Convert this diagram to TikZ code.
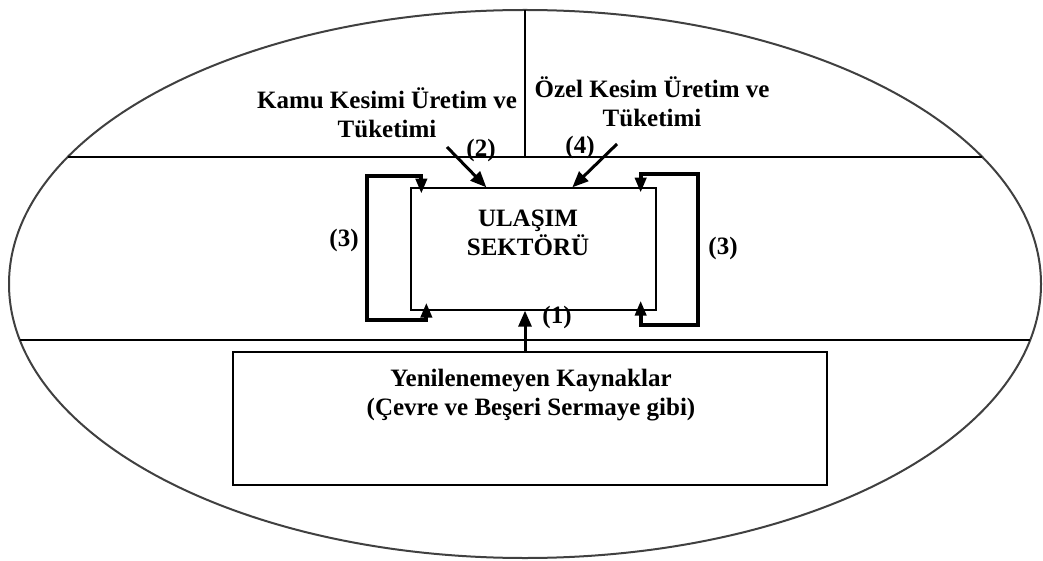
\documentclass[tikz,border=0pt]{standalone}
\usepackage{fontspec}
\setmainfont{Liberation Serif}
\usetikzlibrary{arrows.meta,calc}
\begin{document}
\begin{tikzpicture}[x=1pt,y=-1pt,
  lbl/.style={font=\bfseries\fontsize{25}{29}\selectfont, align=center, inner sep=0pt},
  thinbox/.style={draw, line width=1.3pt, inner sep=0pt},
  zone/.style={line width=1.8pt},
  loopline/.style={line width=4pt, line join=miter, {Triangle[length=15pt,width=11pt]}-{Triangle[length=15pt,width=11pt]}},
  feed/.style={line width=3pt, -{Triangle[length=16pt,width=13pt]}}]
\useasboundingbox (0,0) rectangle (1043,561);
% outer ellipse and zone lines
\draw[line width=2pt, black!75] (525,284) ellipse [x radius=516pt, y radius=274pt];
\coordinate (tl) at (68,157);
\coordinate (tr) at (982,157);
\coordinate (bl) at (20,340);
\coordinate (br) at (1030,340);
\coordinate (vt) at (525,10);
\coordinate (vb) at (525,157);
\draw[zone] (tl) -- (tr);
\draw[zone] (bl) -- (br);
\draw[line width=1.5pt] (vt) -- (vb);
% texts of upper zones
\node[lbl] (kamu) at (387,113) {Kamu Kesimi Üretim ve\\Tüketimi};
\node[lbl] (ozel) at (652,102) {Özel Kesim Üretim ve\\Tüketimi};
% transport sector
\node[thinbox, minimum width=245pt, minimum height=122pt] (sek) at (533.5,249) {};
\node[lbl] (sektxt) at (528,233) {ULAŞIM\\SEKTÖRÜ};
% resources box
\node[draw, zone, minimum width=594pt, minimum height=133pt, inner sep=0pt] (kaynak) at (530,418.5) {};
\node[lbl] (kaytxt) at (531,395) {Yenilenemeyen Kaynaklar\\(Çevre ve Beşeri Sermaye gibi)};
% loops (3)
\draw[loopline] ($(sek.south west)+(16,-8)$) -- ++(0,17) -- ++(-59,0) -- ++(0,-144) -- ++(54,0) -- ++(0,18);
\draw[loopline] ($(sek.south east)+(-16,-10)$) -- ++(0,24) -- ++(57,0) -- ++(0,-151) -- ++(-57,0) -- ++(0,19);
% feeds
\coordinate (s2) at (447,147);
\coordinate (s4) at (617,144);
\draw[feed] (s2) -- ($(sek.north west)+(76,0)$);
\draw[feed] (s4) -- ($(sek.north west)+(162,0)$);
\coordinate (k1) at ($(kaynak.north)+(-5,0)$);
\draw[feed] (k1) -- (k1 |- sek.south);
% labels
\node[lbl] (n2) at (481,150) {(2)};
\node[lbl] (n4) at (580,147) {(4)};
\node[lbl] (n3l) at (344,240) {(3)};
\node[lbl] (n3r) at (723,248) {(3)};
\node[lbl] (n1) at (557,317) {(1)};
\end{tikzpicture}
\end{document}
